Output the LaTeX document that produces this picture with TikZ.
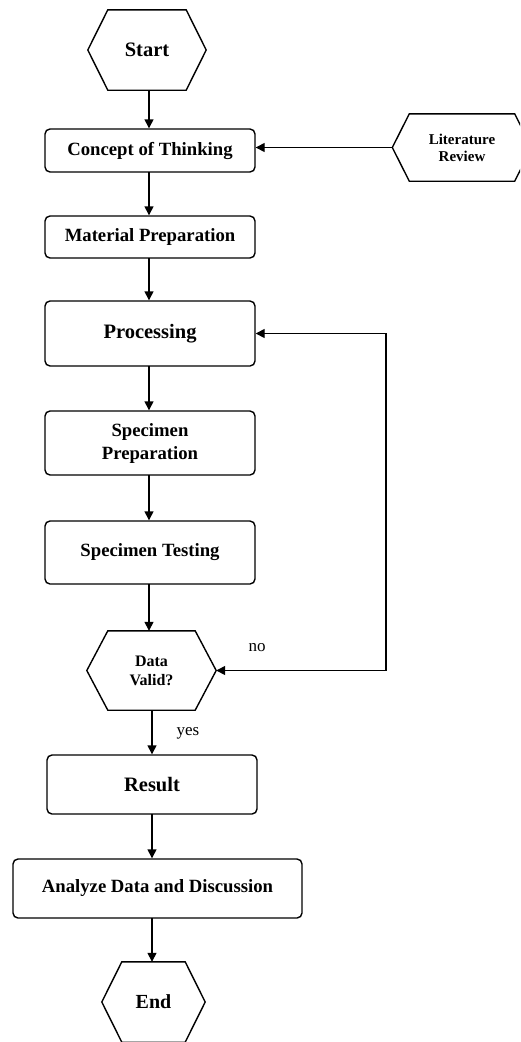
\documentclass[tikz,border=0pt]{standalone}
\usepackage{fontspec}
\setmainfont{Liberation Serif}
\usetikzlibrary{arrows.meta}
\newcommand{\hexdraw}[2]{%
  \draw[line] (#1.west) -- ([xshift=#2]#1.north west) -- ([xshift=-#2]#1.north east) -- (#1.east) -- ([xshift=-#2]#1.south east) -- ([xshift=#2]#1.south west) -- cycle;}
\tikzset{
  line/.style={line width=1.4pt, line join=miter},
  arr/.style={line, -{Triangle[length=9pt,width=9pt]}},
  darr/.style={line, {Triangle[length=9pt,width=9pt]}-{Triangle[length=9pt,width=9pt]}},
  box/.style={draw, line width=1.4pt, rounded corners=5pt, minimum width=210pt, inner sep=0pt, align=center, font=\bfseries\fontsize{18.7}{23}\selectfont},
  hexnode/.style={inner sep=0pt, align=center, font=\bfseries\fontsize{20.5}{24}\selectfont},
  lbl/.style={inner sep=0pt, font=\fontsize{17}{20}\selectfont}
}
\begin{document}
\begin{tikzpicture}[x=1pt,y=-1pt]
\clip (0,0) rectangle (520,1042);
\useasboundingbox (0,0) rectangle (520,1042);
% hexagons
\node[hexnode, minimum width=118pt, minimum height=80pt] (start) at (147,50) {Start};
\hexdraw{start}{20pt}
\node[hexnode, minimum width=139pt, minimum height=67pt, font=\bfseries\fontsize{15}{17}\selectfont] (lit) at (462,147.5) {Literature\\Review};
\hexdraw{lit}{17pt}
\node[hexnode, minimum width=129pt, minimum height=79pt, font=\bfseries\fontsize{16}{19}\selectfont] (data) at (151.5,670.5) {Data\\Valid?};
\hexdraw{data}{21pt}
\node[hexnode, minimum width=103pt, minimum height=80pt, font=\bfseries\fontsize{20}{24}\selectfont] (end) at (153.5,1002) {End};
\hexdraw{end}{20pt}
% boxes
\node[box, minimum height=43pt] (concept) at (150,150.5) {Concept of Thinking};
\node[box, minimum height=42pt] (material) at (150,237) {Material Preparation};
\node[box, minimum height=65pt, font=\bfseries\fontsize{20.5}{24}\selectfont] (proc) at (150,333.5) {Processing};
\node[box, minimum height=64pt] (sprep) at (150,443) {Specimen\\Preparation};
\node[box, minimum height=63pt] (stest) at (150,552.5) {Specimen Testing};
\node[box, minimum height=59pt, font=\bfseries\fontsize{20.5}{24}\selectfont] (result) at (152,784.5) {Result};
\node[box, minimum width=289pt, minimum height=59pt] (analyze) at (157.5,888.5) {Analyze Data and Discussion};
% connectors
\coordinate (p1) at (149,90);
\draw[arr] (p1) -- (p1 |- concept.north);
\coordinate (p2) at (149,172);
\draw[arr] (p2) -- (p2 |- material.north);
\coordinate (p3) at (149,258);
\draw[arr] (p3) -- (p3 |- proc.north);
\coordinate (p4) at (149,366);
\draw[arr] (p4) -- (p4 |- sprep.north);
\coordinate (p5) at (149,475);
\draw[arr] (p5) -- (p5 |- stest.north);
\coordinate (p6) at (149,584);
\draw[arr] (p6) -- (p6 |- data.north);
\coordinate (p7) at (152,710);
\draw[arr] (p7) -- (p7 |- result.north);
\coordinate (p8) at (152,814);
\draw[arr] (p8) -- (p8 |- analyze.north);
\coordinate (p9) at (152,918);
\draw[arr] (p9) -- (p9 |- end.north);
\draw[arr] (lit.west) -- (lit.west -| concept.east);
\coordinate (fb) at (386,670.5);
\draw[darr] (data.east) -- (fb) |- (proc.east);
\node[lbl] (no) at (257,648) {no};
\node[lbl] (yes) at (188,733) {yes};
\end{tikzpicture}
\end{document}
